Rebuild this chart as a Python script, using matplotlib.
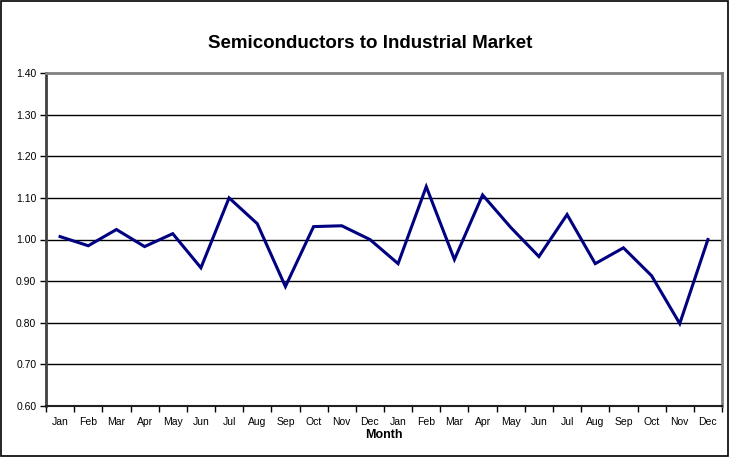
import numpy as np
import matplotlib
matplotlib.use("Agg")
from matplotlib import pyplot as plt
from matplotlib.patches import Rectangle

plt.rcParams['font.family'] = ['Liberation Sans', 'DejaVu Sans']

months = ["Jan", "Feb", "Mar", "Apr", "May", "Jun", "Jul", "Aug", "Sep", "Oct", "Nov", "Dec"] * 2
ratio = [1.007, 0.985, 1.024, 0.983, 1.014, 0.932, 1.100, 1.038, 0.887, 1.031, 1.033, 1.000,
         0.942, 1.127, 0.952, 1.107, 1.029, 0.959, 1.060, 0.942, 0.980, 0.913, 0.798, 1.000]
yticks = [0.6, 0.7, 0.8, 0.9, 1.0, 1.1, 1.2, 1.3, 1.4]

fig = plt.figure(figsize=(7.3, 4.58), dpi=100)
ax = fig.add_axes([46 / 730, 1 - 406 / 458, 676 / 730, 333 / 458])

x = np.arange(len(ratio))
ax.plot(x, ratio, color="#000080", lw=2.2, solid_joinstyle="miter")

ax.set_xlim(-0.5, len(ratio) - 0.5)
ax.set_ylim(0.6, 1.4)
ax.set_yticks(yticks)
ax.set_yticklabels([f"{v:.2f}" for v in yticks])
ax.set_xticks(x)
ax.set_xticklabels(months)
ax.set_xticks(np.arange(len(ratio) + 1) - 0.5, minor=True)
ax.tick_params(axis="x", which="major", length=0, pad=8, labelsize=7.5)
ax.tick_params(axis="x", which="minor", length=4, width=1, direction="out")
ax.tick_params(axis="y", length=4, width=1, labelsize=7.5, pad=3)

for v in yticks[1:-1]:
    ax.axhline(v, color="black", lw=1, zorder=0)

for side in ["top", "right"]:
    ax.spines[side].set_color("#808080")
    ax.spines[side].set_linewidth(2)
ax.spines["left"].set_color("#404040")
ax.spines["left"].set_linewidth(2)
ax.spines["bottom"].set_color("#202020")
ax.spines["bottom"].set_linewidth(1.5)

fig.text(370 / 730, 1 - 44 / 458, "Semiconductors to Industrial Market",
         ha="center", va="center", fontsize=13.5, fontweight="bold")
fig.text(384 / 730, 1 - 435 / 458, "Month", ha="center", va="center",
         fontsize=9, fontweight="bold")

fig.patches.append(Rectangle((1 / 730, 2 / 458), 727 / 730, 455 / 458, transform=fig.transFigure,
                             fill=False, edgecolor="black", lw=1.2))

fig.savefig("out.png", dpi=100)
